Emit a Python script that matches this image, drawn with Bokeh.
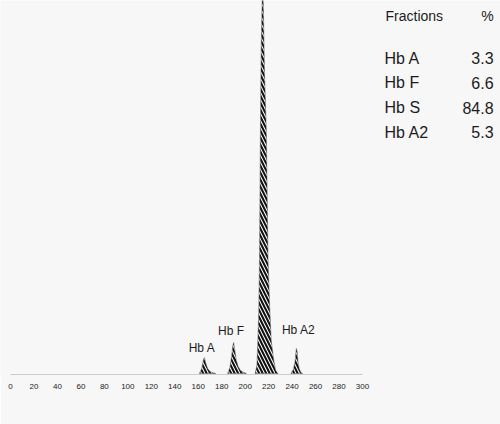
from bokeh.plotting import figure
from bokeh.models import Range1d, FixedTicker, ColumnDataSource
from bokeh.core.properties import value
from bokeh.embed import file_html
from bokeh.resources import INLINE

# ---- data ----
ticks = list(range(0, 301, 20))

fractions = ["Hb A", "Hb F", "Hb S", "Hb A2"]
percent = [3.3, 6.6, 84.8, 5.3]

# peak traces (migration position, signal height)
hba_x = [161.0, 163.0, 164.5, 165.3, 166.5, 168.0, 170.0, 173.0, 175.0]
hba_y = [0, 5, 14, 16, 10, 5, 2, 0.5, 0]

hbf_x = [185.0, 187.0, 188.5, 189.5, 190.2, 191.0, 192.5, 194.0, 196.0, 199.0, 201.0]
hbf_y = [0, 6, 18, 28, 31, 24, 13, 7, 3, 1, 0]

hbs_x = [208.5, 210.0, 210.8, 211.6, 212.2, 213.0, 213.7, 214.6, 215.4, 216.5, 218.0,
         219.5, 221.0, 222.2, 224.4, 226.0, 228.0]
hbs_y = [0, 8, 33, 63, 113, 243, 330, 380, 372, 300, 243, 113, 63, 33, 13, 3, 0]

hba2_x = [239.0, 241.0, 242.5, 243.6, 244.3, 245.0, 246.0, 247.5, 249.0]
hba2_y = [0, 4, 12, 25, 22, 12, 5, 1, 0]

peak_labels = ["Hb A", "Hb F", "Hb A2"]
peak_label_x = [163.2, 188.0, 245.5]
peak_label_y = [26, 42.5, 44]

# table placement (same data units as the chart)
table_name_x = 318.8
table_pct_x = 411.7
table_header_y = 358
table_row_y = [315.5, 290.7, 265.7, 241.3]

BG = "#f7f7f7"
FONT = value("Liberation Sans")
INK = "#1c1c1c"

p = figure(width=500, height=424, output_backend="svg", toolbar_location=None,
           x_range=Range1d(-8.52, 417.6), y_range=Range1d(-7, 373),
           min_border_left=0, min_border_right=0, min_border_top=0,
           min_border_bottom=44)
p.background_fill_color = BG
p.border_fill_color = BG
p.outline_line_color = None
p.grid.visible = False
p.yaxis.visible = False

xa = p.xaxis[0]
xa.ticker = FixedTicker(ticks=ticks)
xa.axis_line_color = None
xa.major_tick_line_color = None
xa.minor_tick_line_color = None
xa.major_tick_out = 0
xa.major_label_standoff = 3
xa.major_label_text_font_size = "8px"
xa.major_label_text_font = "Liberation Sans"
xa.major_label_text_color = "#222222"

# faint baseline
p.line(x=[ticks[0], ticks[-1]], y=[-1, -1], line_color="#cdcdcd", line_width=1)

src = ColumnDataSource(dict(xs=[hba_x, hbf_x, hbs_x, hba2_x],
                            ys=[hba_y, hbf_y, hbs_y, hba2_y]))
p.patches(xs="xs", ys="ys", source=src, fill_color="white",
          hatch_pattern="\\", hatch_color="#111111", hatch_scale=7,
          hatch_weight=2.1, line_color="#555555", line_width=0.5)

p.text(x=peak_label_x, y=peak_label_y, text=peak_labels, text_font=FONT,
       text_font_size="12px", text_align="center", text_baseline="alphabetic",
       text_color=INK)

p.text(x=[table_name_x + 0.8], y=[table_header_y], text=["Fractions"], text_font=FONT,
       text_font_size="14px", text_align="left", text_baseline="alphabetic",
       text_color=INK)
p.text(x=[table_pct_x], y=[table_header_y], text=["%"], text_font=FONT,
       text_font_size="14px", text_align="right", text_baseline="alphabetic",
       text_color=INK)
p.text(x=[table_name_x] * len(fractions), y=table_row_y, text=fractions, text_font=FONT,
       text_font_size="16px", text_align="left", text_baseline="alphabetic",
       text_color=INK)
p.text(x=[table_pct_x] * len(percent), y=table_row_y, text=[f"{v:.1f}" for v in percent],
       text_font=FONT, text_font_size="16px", text_align="right",
       text_baseline="alphabetic", text_color=INK)

open("out.html", "w").write(file_html(p, INLINE))
